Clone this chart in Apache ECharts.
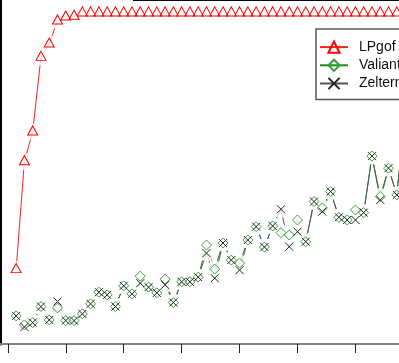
<!DOCTYPE html>
<html>
<head>
<meta charset="utf-8">
<script src="https://cdn.jsdelivr.net/npm/echarts@6/dist/echarts.min.js"></script>
<style>
html,body{margin:0;padding:0;background:#fff;}
#c{width:399px;height:363px;}
</style>
</head>
<body>
<div id="c"></div>
<script>
// x positions (sample index) for each point
var xs = [1,2,3,4,5,6,7,8,9,10,11,12,13,14,15,16,17,18,19,20,21,22,23,24,25,26,27,28,29,30,31,32,33,34,35,36,37,38,39,40,41,42,43,44,45,46,47,48];
var xTicks = [0,7,14,21,28,35,42];
var seriesNames = ['LPgof','Valiant','Zelterman'];
var lpgof = [0.232,0.555,0.644,0.867,0.907,0.976,0.988,0.990,1,1,1,1,1,1,1,1,1,1,1,1,1,1,1,1,1,1,1,1,1,1,1,1,1,1,1,1,1,1,1,1,1,1,1,1,1,1,1,1];
var valiant = [0.093,0.066,0.073,0.121,0.081,0.117,0.079,0.079,0.099,0.129,0.164,0.156,0.121,0.183,0.159,0.212,0.179,0.162,0.203,0.133,0.195,0.195,0.209,0.305,0.233,0.311,0.260,0.251,0.320,0.360,0.299,0.362,0.342,0.335,0.380,0.315,0.435,0.416,0.465,0.388,0.380,0.410,0.402,0.571,0.450,0.535,0.455,0.700];
var zelterman = [0.093,0.060,0.073,0.121,0.081,0.136,0.079,0.079,0.099,0.129,0.164,0.156,0.121,0.183,0.159,0.191,0.179,0.162,0.186,0.133,0.195,0.195,0.209,0.281,0.206,0.311,0.260,0.230,0.320,0.360,0.299,0.362,0.412,0.300,0.345,0.315,0.435,0.405,0.465,0.388,0.380,0.380,0.402,0.571,0.440,0.535,0.455,0.700];

function pairs(ys){ return ys.map(function(v,i){ return [xs[i], v]; }); }

var styles = {
  LPgof:{line:'#ff2020', mark:'#ff0000', symbol:'triangle', size:[10,9], offset:[0,-1.3]},
  Valiant:{line:'#1a8a1a', mark:'#3a9f3a', symbol:'diamond', size:10, offset:[0,0]},
  Zelterman:{line:'#555555', mark:'#222222', symbol:'path://M0,0L10,10M10,0L0,10', size:8, offset:[0,0]}
};
var dataMap = {LPgof:lpgof, Valiant:valiant, Zelterman:zelterman};

var series = [];
// 1) connecting lines (legend icons come from these)
seriesNames.forEach(function(n){
  var s = styles[n];
  series.push({name:n, type:'line', data:pairs(dataMap[n]), z:1, showSymbol:false,
    symbol:s.symbol, symbolSize:s.size, symbolOffset:s.offset,
    lineStyle:{color:s.line, width:1}, itemStyle:{color:'none', borderColor:s.mark, borderWidth:1}});
});
// 2) white gaps around the points (R type = "b")
seriesNames.forEach(function(n){
  series.push({name:n+' gap', type:'scatter', data:pairs(dataMap[n]), z:2, silent:true,
    symbol:'circle', symbolSize:17, itemStyle:{color:'#ffffff'}});
});
// 3) point symbols
seriesNames.forEach(function(n){
  var s = styles[n];
  series.push({name:n+' pts', type:'scatter', data:pairs(dataMap[n]), z:3, silent:true,
    symbol:s.symbol, symbolSize:s.size, symbolOffset:s.offset,
    itemStyle:{color:'none', borderColor:s.mark, borderWidth:1, opacity:1}});
});

var chart = echarts.init(document.getElementById('c'), null, {renderer:'canvas'});
chart.setOption({
  animation:false,
  backgroundColor:'#ffffff',
  grid:{left:0, top:0, width:413, bottom:19, containLabel:false, outerBoundsMode:'none'},
  xAxis:{
    type:'value', min:-0.9485, max:48.955,
    axisLine:{show:true, onZero:false, lineStyle:{color:'#808080', width:2}},
    axisTick:{show:true, length:9, customValues:xTicks, lineStyle:{color:'#222', width:1}},
    axisLabel:{show:false, customValues:xTicks},
    splitLine:{show:false}
  },
  yAxis:{
    type:'value', min:0.009, max:1.038,
    axisLine:{show:true, onZero:false, lineStyle:{color:'#000', width:3}},
    axisTick:{show:false}, axisLabel:{show:false}, splitLine:{show:false}
  },
  legend:{
    orient:'vertical', left:316, top:29, z:10,
    data:seriesNames,
    itemWidth:28, itemHeight:14, itemGap:2,
    padding:[10,40,8,3],
    borderColor:'#555', borderWidth:1.5, backgroundColor:'#fff',
    textStyle:{fontFamily:'Liberation Sans, Arial, sans-serif', fontSize:14, color:'#111', padding:[0,0,0,6]}
  },
  graphic:[{type:'line', shape:{x1:133, y1:0.5, x2:399, y2:0.5}, style:{stroke:'#000', lineWidth:1}}],
  series:series
});
</script>
</body>
</html>
